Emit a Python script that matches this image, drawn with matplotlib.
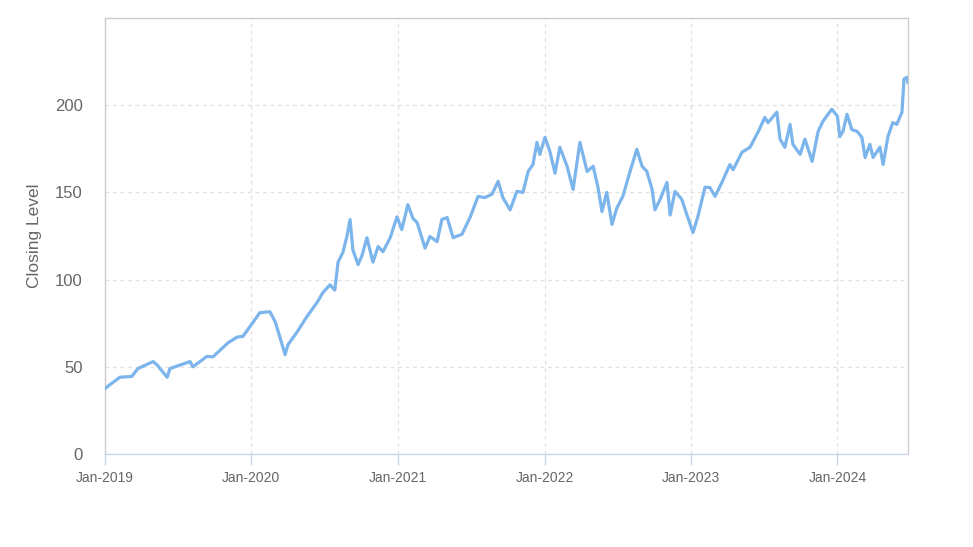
import numpy as np
import pandas as pd
import matplotlib
matplotlib.use("Agg")
import matplotlib.pyplot as plt
import matplotlib.dates as mdates

# Datos (fecha, nivel de cierre)
fechas = [
    "2019-01-01", "2019-01-13", "2019-02-07", "2019-03-09", "2019-03-24", "2019-05-01",
    "2019-05-11", "2019-06-05", "2019-06-12", "2019-08-01", "2019-08-08", "2019-08-26",
    "2019-09-12", "2019-09-27", "2019-11-04", "2019-11-26", "2019-12-11", "2020-01-15",
    "2020-01-22", "2020-02-16", "2020-02-29", "2020-03-12", "2020-03-25", "2020-04-01",
    "2020-04-24", "2020-05-19", "2020-06-13", "2020-06-27", "2020-07-15", "2020-07-27",
    "2020-08-04", "2020-08-16", "2020-08-26", "2020-09-03", "2020-09-10", "2020-09-23",
    "2020-10-03", "2020-10-15", "2020-10-30", "2020-11-12", "2020-11-24", "2020-12-12",
    "2020-12-29", "2021-01-10", "2021-01-25", "2021-02-07", "2021-02-17", "2021-03-09",
    "2021-03-21", "2021-04-08", "2021-04-20", "2021-05-03", "2021-05-18", "2021-06-09",
    "2021-06-29", "2021-07-19", "2021-08-05", "2021-08-23", "2021-09-07", "2021-09-19",
    "2021-10-07", "2021-10-24", "2021-11-08", "2021-11-21", "2021-12-03", "2021-12-13",
    "2021-12-20", "2022-01-02", "2022-01-14", "2022-01-27", "2022-02-08", "2022-02-26",
    "2022-03-13", "2022-03-30", "2022-04-17", "2022-05-02", "2022-05-14", "2022-05-24",
    "2022-06-05", "2022-06-18", "2022-06-30", "2022-07-15", "2022-08-02", "2022-08-19",
    "2022-09-01", "2022-09-13", "2022-09-26", "2022-10-03", "2022-10-16", "2022-11-02",
    "2022-11-10", "2022-11-22", "2022-12-09", "2022-12-22", "2023-01-06", "2023-01-18",
    "2023-02-05", "2023-02-17", "2023-03-02", "2023-03-19", "2023-04-08", "2023-04-16",
    "2023-05-08", "2023-05-28", "2023-06-17", "2023-07-04", "2023-07-12", "2023-08-03",
    "2023-08-11", "2023-08-23", "2023-09-05", "2023-09-12", "2023-09-30", "2023-10-12",
    "2023-10-30", "2023-11-14", "2023-11-26", "2023-12-18", "2024-01-01", "2024-01-07",
    "2024-01-15", "2024-01-25", "2024-02-06", "2024-02-19", "2024-03-02", "2024-03-10",
    "2024-03-22", "2024-03-30", "2024-04-16", "2024-04-24", "2024-05-06", "2024-05-18",
    "2024-05-28", "2024-06-10", "2024-06-15", "2024-06-22", "2024-06-25",
]
cierre = [
    37.5, 39.7, 44, 44.5, 49, 53,
    51, 44, 49, 53, 50, 53,
    56, 55.7, 63.8, 67, 67.5, 78.7,
    81, 81.6, 76, 67, 57, 62.6,
    70, 79, 87, 92.5, 97, 94,
    110, 115.5, 124.7, 134.5, 117, 108.6,
    114, 124, 110, 119, 116, 124,
    136, 128.7, 143, 135, 132.8, 118,
    124.7, 121.8, 134.5, 135.6, 124, 126,
    135.6, 147.7, 147, 149, 156.3, 147,
    140, 150.6, 150, 162, 166, 178.7,
    171.8, 181.6, 173.6, 161, 175.9, 165,
    151.7, 178.7, 162, 165, 153, 139,
    150, 131.6, 141, 147.7, 162, 174.7,
    165, 162, 151.7, 140, 146, 155.7,
    137, 150.6, 146, 137, 127, 136,
    153, 152.8, 147.7, 155.7, 166, 163,
    173, 175.9, 184.5, 193, 190, 196,
    180.5, 175.9, 189, 177.6, 171.8, 180.5,
    167.8, 185, 190.8, 197.7, 193.7, 182,
    185, 194.8, 186, 185, 181.6, 170,
    177.6, 170, 175.9, 166, 182, 190,
    189, 196, 215, 216, 213,
]

x = pd.to_datetime(fechas)

plt.rcParams['font.family'] = ['Liberation Sans', 'DejaVu Sans']

fig = plt.figure(figsize=(9.73, 5.47), dpi=100)
ax = fig.add_axes([105 / 973, 1 - 454 / 547, (908 - 105) / 973, (454 - 18) / 547])

ax.plot(x, cierre, color='#7cb5ec', linewidth=2.3, solid_joinstyle='round', zorder=3)

ax.set_xlim(pd.Timestamp("2019-01-01"), pd.Timestamp("2024-06-25"))
ax.set_ylim(0, 250)
ax.set_yticks([0, 50, 100, 150, 200])

ticks_x = pd.to_datetime([f"{a}-01-01" for a in range(2019, 2025)])
ax.set_xticks(ticks_x)
ax.xaxis.set_major_formatter(mdates.DateFormatter('%b-%Y'))

# Rejilla y bordes
ax.grid(True, color='#e0e0e0', linestyle=(0, (3, 3)), linewidth=0.9)
ax.set_axisbelow(True)
for lado in ['left', 'top', 'right']:
    ax.spines[lado].set_color('#cccccc')
    ax.spines[lado].set_linewidth(1.0)
ax.spines['bottom'].set_color('#ccd6eb')
ax.spines['bottom'].set_linewidth(1.0)

ax.tick_params(axis='x', length=8, color='#ccd6eb', width=1, labelsize=10,
               labelcolor='#666666', pad=4)
ax.tick_params(axis='y', length=0, labelsize=12, labelcolor='#666666', pad=16)

ax.set_ylabel("Closing Level", fontsize=12.5, color='#666666', labelpad=9)

fig.savefig("out.png", dpi=100)
